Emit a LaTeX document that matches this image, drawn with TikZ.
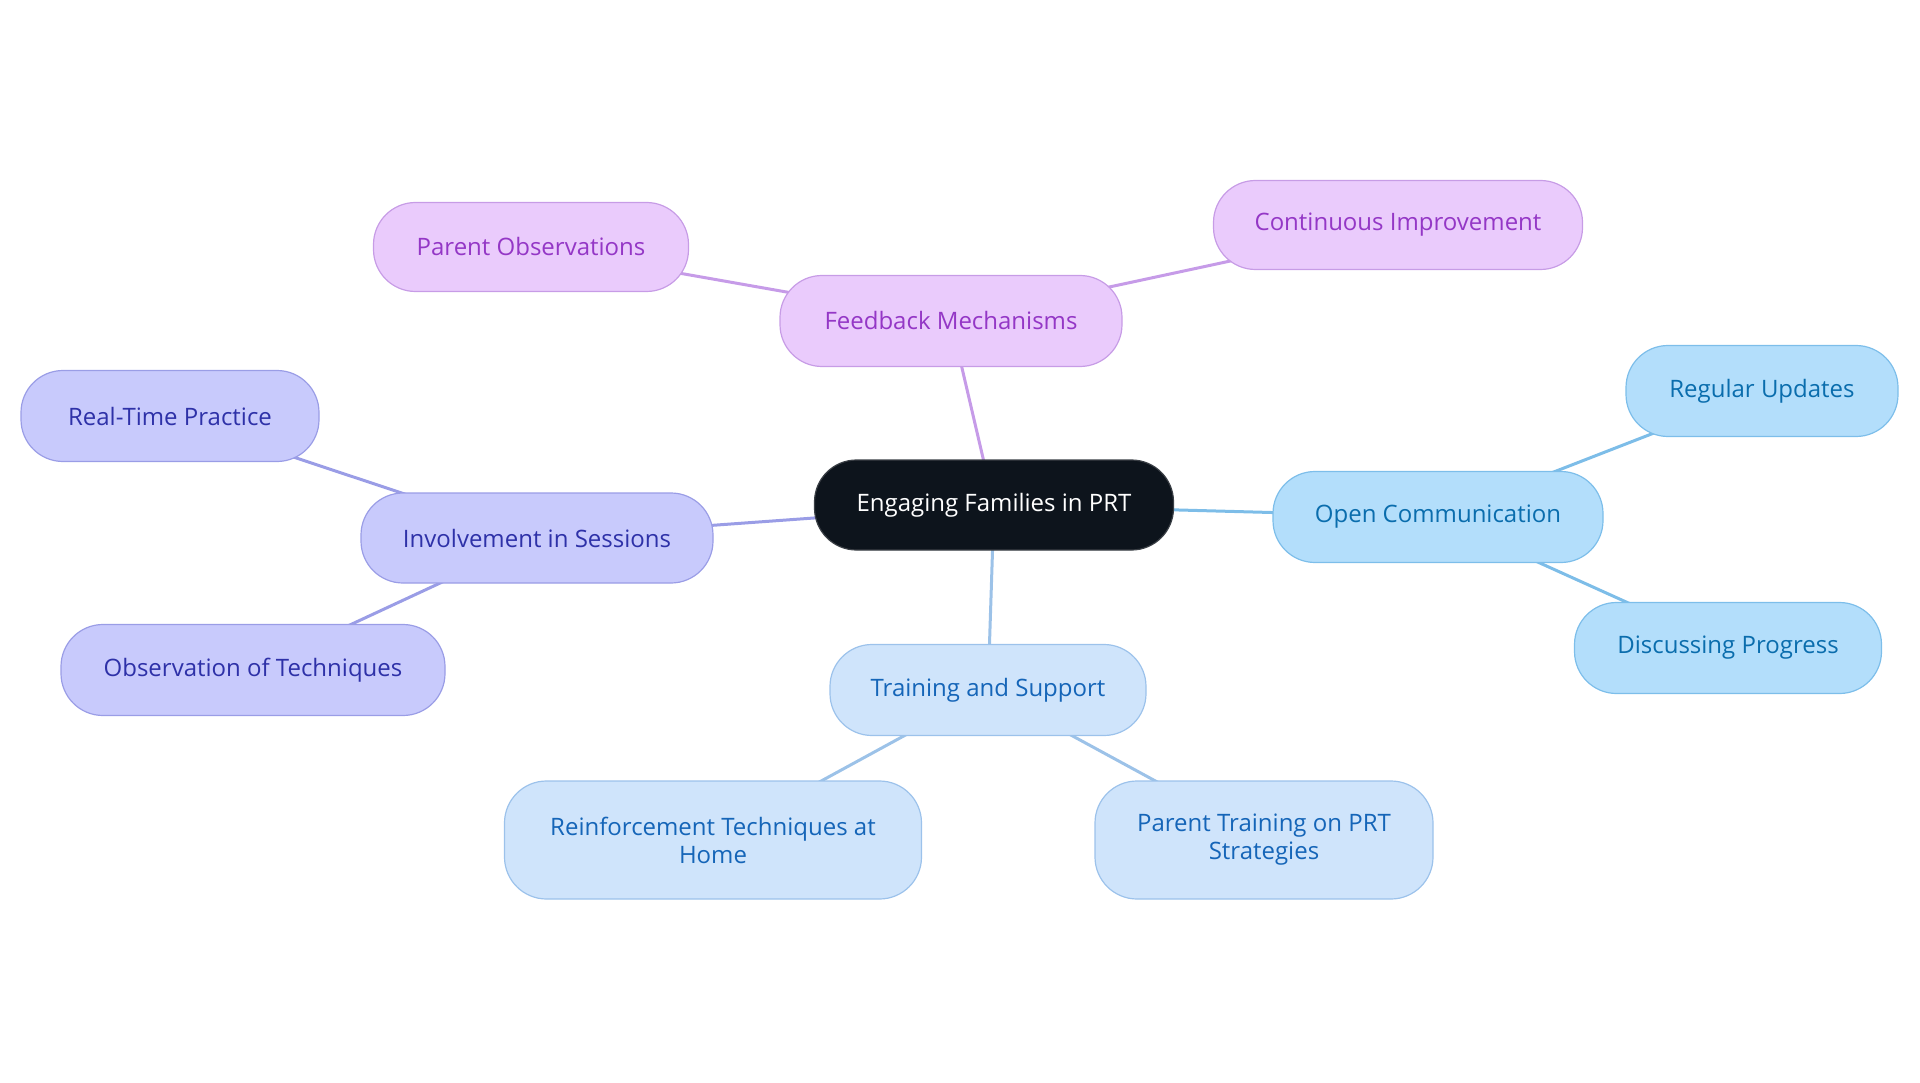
\documentclass[tikz,border=0pt]{standalone}
\usepackage{fontspec}
\setmainfont{Open Sans}
\usetikzlibrary{backgrounds}
\definecolor{cfill}{HTML}{0D141C}
\definecolor{cdraw}{HTML}{3A3F45}
\definecolor{pfill}{HTML}{EACBFC}
\definecolor{pdraw}{HTML}{C79CE6}
\definecolor{ptext}{HTML}{9437C6}
\definecolor{pedge}{HTML}{C69BE8}
\definecolor{bfill}{HTML}{B3DEFB}
\definecolor{bdraw}{HTML}{7DBEEA}
\definecolor{btext}{HTML}{0A6DAD}
\definecolor{bedge}{HTML}{7DBDE8}
\definecolor{tfill}{HTML}{CFE4FB}
\definecolor{tdraw}{HTML}{9CC2EB}
\definecolor{ttext}{HTML}{1565B8}
\definecolor{tedge}{HTML}{9CC2E8}
\definecolor{ifill}{HTML}{C8CAFC}
\definecolor{idraw}{HTML}{9A9DE6}
\definecolor{itext}{HTML}{2E31A8}
\definecolor{iedge}{HTML}{9A9DE6}
\tikzset{
  box/.style={rounded corners=42pt, line width=1.2pt, align=center, inner sep=0pt,
    font=\fontsize{24}{28}\selectfont},
  root/.style={box, fill=cfill, draw=cdraw, text=white},
  pbox/.style={box, fill=pfill, draw=pdraw, text=ptext},
  bbox/.style={box, fill=bfill, draw=bdraw, text=btext},
  tbox/.style={box, fill=tfill, draw=tdraw, text=ttext},
  ibox/.style={box, fill=ifill, draw=idraw, text=itext},
  link/.style={line width=3pt}
}
\begin{document}
\begin{tikzpicture}[x=1pt,y=-1pt]
\useasboundingbox (0,0) rectangle (1920,1083);
\node[root, minimum width=359pt, minimum height=90pt] (c) at (994,505) {Engaging Families in PRT};
\node[pbox, minimum width=342pt, minimum height=91pt] (fm) at (951,321) {Feedback Mechanisms};
\node[pbox, minimum width=315pt, minimum height=89pt] (po) at (531,247) {Parent Observations};
\node[pbox, minimum width=369pt, minimum height=89pt] (ci) at (1398,225) {Continuous Improvement};
\node[bbox, minimum width=330pt, minimum height=91pt] (oc) at (1438,517) {Open Communication};
\node[bbox, minimum width=272pt, minimum height=91pt] (ru) at (1762,391) {Regular Updates};
\node[bbox, minimum width=307pt, minimum height=91pt] (dp) at (1728,648) {Discussing Progress};
\node[tbox, minimum width=316pt, minimum height=91pt] (ts) at (988,690) {Training and Support};
\node[tbox, minimum width=417pt, minimum height=118pt] (rt) at (713,840) {Reinforcement Techniques at\\Home};
\node[tbox, minimum width=338pt, minimum height=118pt] (pt) at (1264,840) {Parent Training on PRT\\Strategies};
\node[ibox, minimum width=352pt, minimum height=90pt] (is) at (537,538) {Involvement in Sessions};
\node[ibox, minimum width=298pt, minimum height=91pt] (rp) at (170,416) {Real-Time Practice};
\node[ibox, minimum width=384pt, minimum height=91pt] (ot) at (253,670) {Observation of Techniques};
\begin{scope}[on background layer]
\draw[link, pedge] (c.center) -- (fm.center);
\draw[link, pedge] (fm.center) -- (po.center);
\draw[link, pedge] (fm.center) -- (ci.center);
\draw[link, bedge] (c.center) -- (oc.center);
\draw[link, bedge] (oc.center) -- (ru.center);
\draw[link, bedge] (oc.center) -- (dp.center);
\draw[link, tedge] (c.center) -- (ts.center);
\draw[link, tedge] (ts.center) -- (rt.center);
\draw[link, tedge] (ts.center) -- (pt.center);
\draw[link, iedge] (c.center) -- (is.center);
\draw[link, iedge] (is.center) -- (rp.center);
\draw[link, iedge] (is.center) -- (ot.center);
\end{scope}
\end{tikzpicture}
\end{document}
